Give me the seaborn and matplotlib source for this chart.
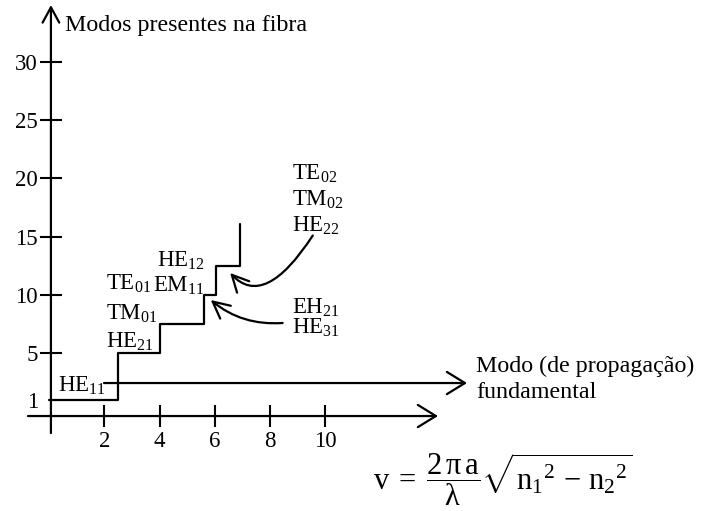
import matplotlib
matplotlib.use("Agg")
import matplotlib.pyplot as plt
import seaborn as sns
import pandas as pd

# Normalized frequency v at which each new group of modes appears,
# and the number of modes guided from that point on
cutoff_v = [0.0, 2.5, 4.0, 5.6, 6.05, 6.9]
mode_count = [1, 5, 7.5, 10, 12.5, 16.1]

x_ticks = [2, 4, 6, 8, 10]
y_ticks = [1, 5, 10, 15, 20, 25, 30]

sns.set_theme(style="white")
plt.rcParams["font.family"] = ["Liberation Serif", "DejaVu Serif"]
plt.rcParams["mathtext.fontset"] = "custom"
plt.rcParams["mathtext.rm"] = "Liberation Serif"
plt.rcParams["mathtext.it"] = "Liberation Serif:italic"
plt.rcParams["mathtext.bf"] = "Liberation Serif:bold"
for key in ["text.color", "axes.labelcolor", "xtick.color", "ytick.color"]:
    plt.rcParams[key] = "black"

fig = plt.figure(figsize=(7.04, 5.11), dpi=100)
ax = fig.add_axes([0, 0, 1, 1])
ax.set_xlim(-1.772, 23.69)
ax.set_ylim(-8.525, 35.30)

df = pd.DataFrame({"v": cutoff_v, "modos": mode_count})
sns.lineplot(data=df, x="v", y="modos", drawstyle="steps-post", color="black",
             lw=1.6, sort=False, estimator=None, ax=ax)

# axes drawn as arrows through the origin
for s in ax.spines.values():
    s.set_visible(False)
ax.spines["left"].set_position(("data", 0.07))
ax.spines["bottom"].set_position(("data", -0.38))
ax.set_xticks(x_ticks)
ax.set_yticks(y_ticks)
ax.set_xlabel("")
ax.set_ylabel("")
ax.tick_params(axis="both", direction="inout", length=15.8, width=1.5,
               labelsize=16.5, left=True, bottom=True)
ax.tick_params(axis="y", pad=1.5)
ax.tick_params(axis="x", pad=3)
ax.yaxis.get_major_ticks()[0].tick1line.set_visible(False)

axis_arrow = dict(arrowstyle="->,head_length=1.3,head_width=0.8", lw=1.6,
                  color="black", mutation_scale=10, shrinkA=0, shrinkB=0)
ax.annotate("", xy=(0.07, 34.87), xytext=(0.07, -1.84),
            arrowprops=dict(axis_arrow, arrowstyle="->,head_length=1.1,head_width=0.6"))
ax.annotate("", xy=(14.07, -0.38), xytext=(-0.76, -0.38), arrowprops=axis_arrow)
ax.annotate("", xy=(15.12, 2.45), xytext=(1.99, 2.45), arrowprops=axis_arrow)

big = dict(fontsize=17.3, ha="left", va="baseline")
ax.text(0.58, 32.64, "Modos presentes na fibra", **big)
ax.text(15.44, 3.42, "Modo (de propagação)", **big)
ax.text(15.44, 1.19, "fundamental", **big)

txt = dict(fontsize=16.5, ha="left", va="baseline")
ax.text(0.33, 1.71, "HE$_{11}$", **txt)
ax.text(2.06, 10.43, "TE$_{01}$", **txt)
ax.text(2.06, 7.92, "TM$_{01}$", **txt)
ax.text(2.06, 5.51, "HE$_{21}$", **txt)
ax.text(3.75, 10.28, "EM$_{11}$", **txt)
ax.text(3.89, 12.43, "HE$_{12}$", **txt)
ax.text(8.78, 19.92, "TE$_{02}$", **txt)
ax.text(8.78, 17.63, "TM$_{02}$", **txt)
ax.text(8.78, 15.43, "HE$_{22}$", **txt)
ax.text(8.78, 8.43, "EH$_{21}$", **txt)
ax.text(8.78, 6.66, "HE$_{31}$", **txt)

curve_arrow = dict(arrowstyle="->,head_length=1.2,head_width=0.6", lw=1.6,
                   color="black", mutation_scale=10, shrinkA=0, shrinkB=0)
ax.annotate("", xy=(6.55, 11.89), xytext=(9.54, 15.1),
            arrowprops=dict(curve_arrow, connectionstyle="angle3,angleA=-123,angleB=-47"))
ax.annotate("", xy=(5.85, 9.57), xytext=(8.45, 7.6),
            arrowprops=dict(curve_arrow, connectionstyle="arc3,rad=-0.2"))

ax.text(11.72, -5.85,
        r"$\mathrm{v}\;=\;\dfrac{\mathrm{2\,\pi\,a}}{\mathrm{\lambda}}"
        r"\sqrt{\mathrm{n}_1{}^{2}\,-\,\mathrm{n}_2{}^{2}}$",
        fontsize=22, ha="left", va="center")

fig.savefig("out.png", dpi=100)
